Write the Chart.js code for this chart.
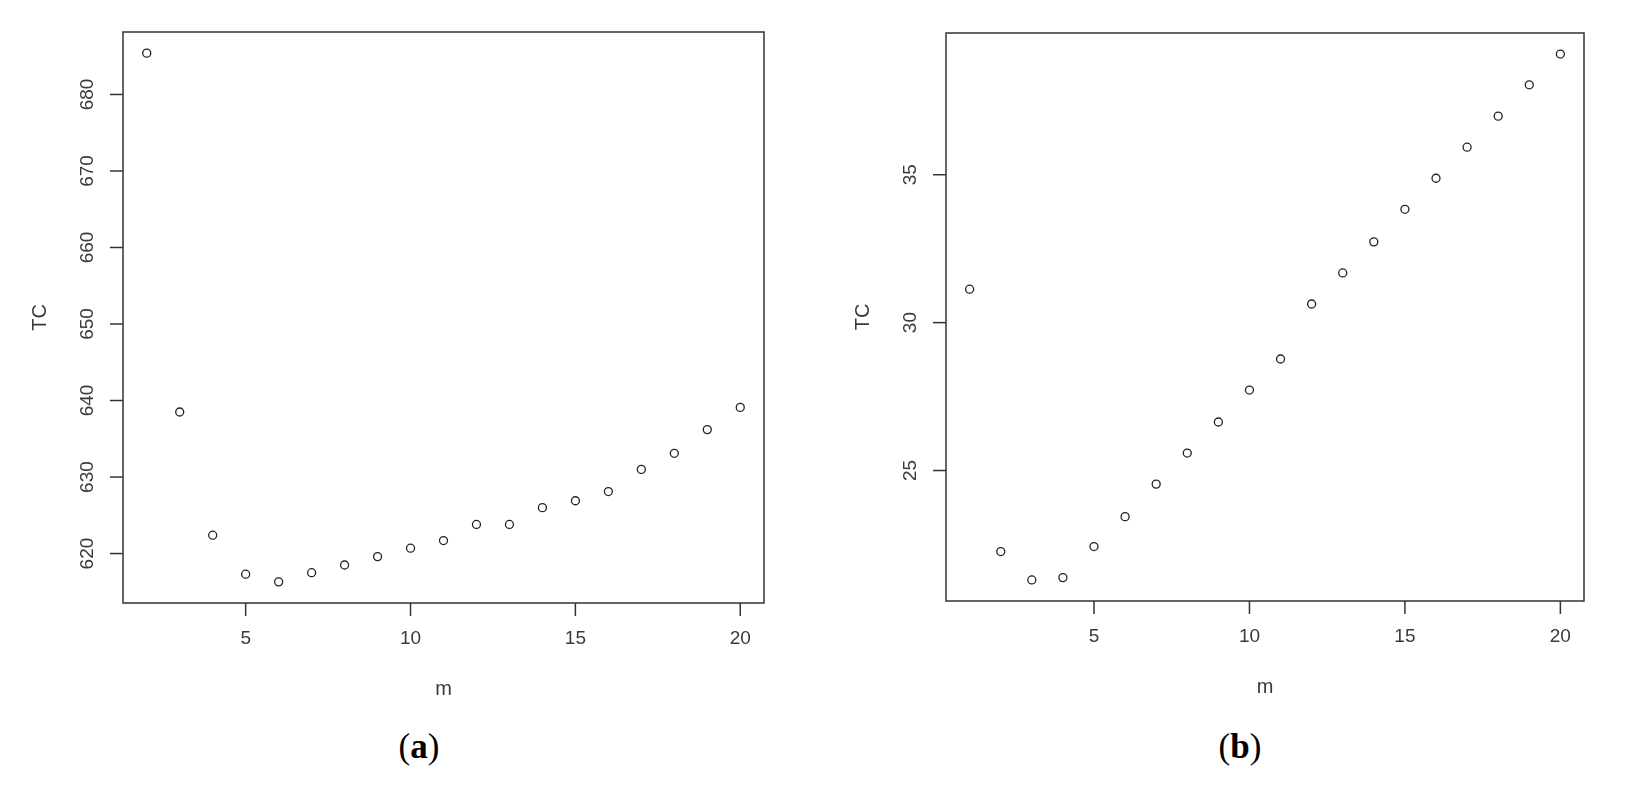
<!DOCTYPE html>
<html lang="en">
<head>
    <meta charset="UTF-8">
    <title>TC vs m</title>
    <script src="https://cdn.jsdelivr.net/npm/chart.js"></script>
    <style>
        body, html {
            margin: 0;
            padding: 0;
            background: #fff;
        }

        .panel {
            position: absolute;
            top: 0;
        }

        .caption {
            position: absolute;
            top: 726px;
            width: 200px;
            text-align: center;
            font-family: 'Liberation Serif', serif;
            font-size: 35px;
            line-height: 42px;
            color: #000;
        }
    </style>
</head>
<body>
<div class="panel" style="left:0"><canvas id="chartA" width="814" height="720"></canvas></div>
<div class="panel" style="left:814px"><canvas id="chartB" width="814" height="720"></canvas></div>
<div class="caption" style="left:319px">(<b>a</b>)</div>
<div class="caption" style="left:1140px">(<b>b</b>)</div>

<script>
    // data
    const mA = [2, 3, 4, 5, 6, 7, 8, 9, 10, 11, 12, 13, 14, 15, 16, 17, 18, 19, 20];
    const tcA = [685.4, 638.5, 622.4, 617.3, 616.3, 617.5, 618.5, 619.6, 620.7, 621.7,
                 623.8, 623.8, 626.0, 626.9, 628.1, 631.0, 633.1, 636.2, 639.1];
    const mB = [1, 2, 3, 4, 5, 6, 7, 8, 9, 10, 11, 12, 13, 14, 15, 16, 17, 18, 19, 20];
    const tcB = [31.13, 22.26, 21.30, 21.38, 22.43, 23.44, 24.54, 25.59, 26.64, 27.72,
                 28.77, 30.63, 31.68, 32.73, 33.83, 34.88, 35.93, 36.98, 38.04, 39.08];

    const xTicks = [5, 10, 15, 20];
    const yTicksA = [620, 630, 640, 650, 660, 670, 680];
    const yTicksB = [25, 30, 35];

    const xTitle = 'm';
    const yTitle = 'TC';

    // R-style axis range: data range padded by 4% each side
    function rRange(vals) {
        const lo = Math.min(...vals), hi = Math.max(...vals);
        const pad = (hi - lo) * 0.04;
        return { min: lo - pad, max: hi + pad };
    }

    const labelColor = '#3a3a3a';
    const tickFont = '19px "Liberation Sans", Arial, sans-serif';
    const titleFont = '20px "Liberation Sans", Arial, sans-serif';

    // draws the base-graphics look: box, outward ticks, rotated y labels
    const rFrame = {
        id: 'rFrame',
        afterDraw(chart, args, opts) {
            const ctx = chart.ctx;
            const { left, top, right, bottom } = chart.chartArea;
            const x = chart.scales.x, y = chart.scales.y;
            ctx.save();
            ctx.strokeStyle = '#333';
            ctx.lineWidth = 1.5;
            ctx.strokeRect(left, top, right - left, bottom - top);

            ctx.fillStyle = labelColor;
            ctx.font = tickFont;
            ctx.textAlign = 'center';
            ctx.textBaseline = 'middle';
            opts.xTicks.forEach(v => {
                const px = x.getPixelForValue(v);
                ctx.beginPath();
                ctx.moveTo(px, bottom);
                ctx.lineTo(px, bottom + 13);
                ctx.stroke();
                ctx.fillText(String(v), px, bottom + 36);
            });
            opts.yTicks.forEach(v => {
                const py = y.getPixelForValue(v);
                ctx.beginPath();
                ctx.moveTo(left - 13, py);
                ctx.lineTo(left, py);
                ctx.stroke();
                ctx.save();
                ctx.translate(left - 35, py);
                ctx.rotate(-Math.PI / 2);
                ctx.fillText(String(v), 0, 0);
                ctx.restore();
            });

            ctx.font = titleFont;
            ctx.fillText(xTitle, (left + right) / 2, bottom + 86);
            ctx.save();
            ctx.translate(left - 83, (top + bottom) / 2);
            ctx.rotate(-Math.PI / 2);
            ctx.fillText(yTitle, 0, 0);
            ctx.restore();
            ctx.restore();
        }
    };

    function makeChart(id, xs, ys, yTicks, padding) {
        const xr = rRange(xs), yr = rRange(ys);
        return new Chart(document.getElementById(id), {
            type: 'scatter',
            data: {
                datasets: [{
                    data: xs.map((v, i) => ({ x: v, y: ys[i] })),
                    pointStyle: 'circle',
                    pointRadius: 4,
                    pointBorderWidth: 1.3,
                    pointBorderColor: '#222',
                    pointBackgroundColor: 'rgba(0,0,0,0)'
                }]
            },
            options: {
                responsive: false,
                animation: false,
                events: [],
                layout: { padding: padding },
                scales: {
                    x: { type: 'linear', min: xr.min, max: xr.max, display: false },
                    y: { type: 'linear', min: yr.min, max: yr.max, display: false }
                },
                plugins: {
                    legend: { display: false },
                    tooltip: { enabled: false },
                    rFrame: { xTicks: xTicks, yTicks: yTicks }
                }
            },
            plugins: [rFrame]
        });
    }

    makeChart('chartA', mA, tcA, yTicksA, { left: 123, top: 32, right: 50, bottom: 117 });
    makeChart('chartB', mB, tcB, yTicksB, { left: 132, top: 33, right: 44, bottom: 119 });
</script>
</body>
</html>
